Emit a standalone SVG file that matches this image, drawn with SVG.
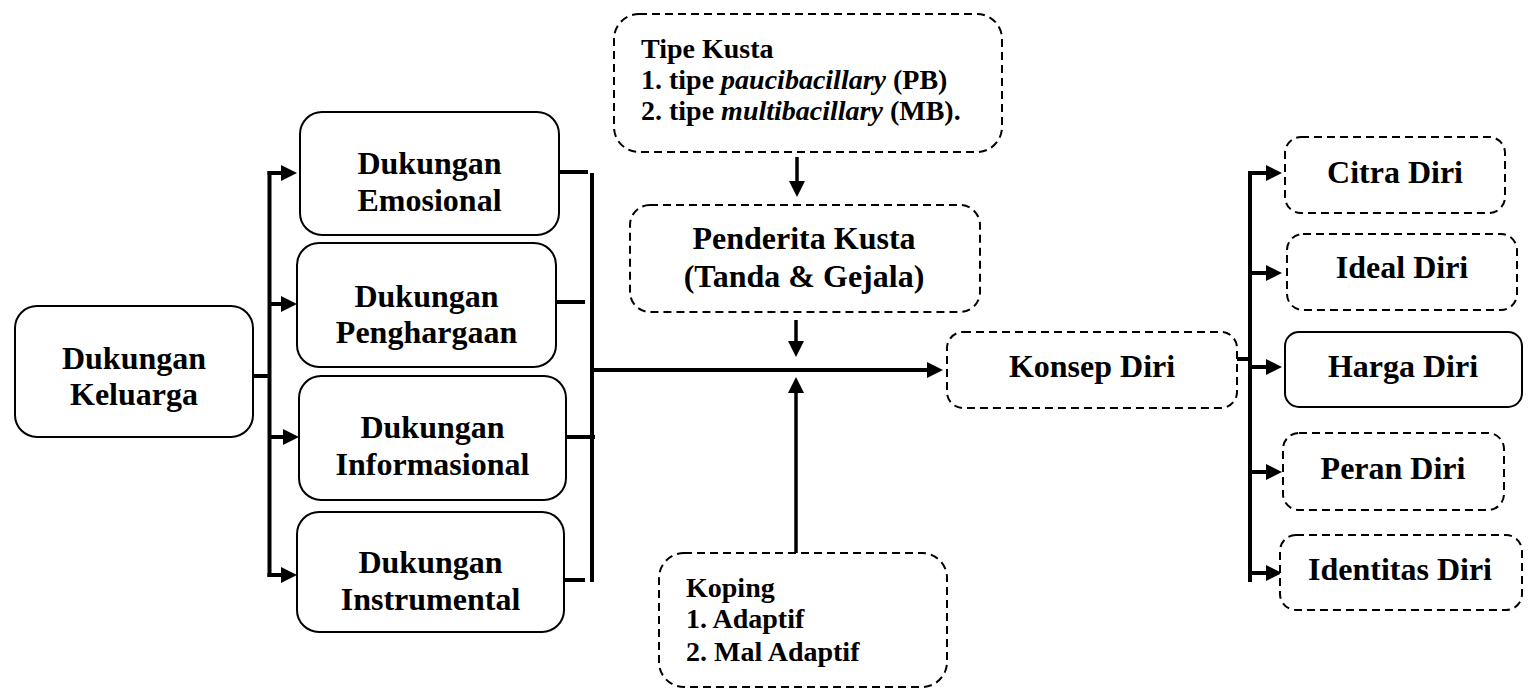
<svg xmlns="http://www.w3.org/2000/svg" width="1531" height="691" viewBox="0 0 1531 691">
<style>
  .box { fill: #fff; stroke: #000; stroke-width: 2; }
  .dash { fill: #fff; stroke: #000; stroke-width: 2; stroke-dasharray: 8 5; }
  .lbl { font-family: "Liberation Serif", "Times New Roman", serif; font-weight: bold; font-size: 32px; fill: #000; text-anchor: middle; }
  .lst { font-family: "Liberation Serif", "Times New Roman", serif; font-weight: bold; font-size: 28px; fill: #000; }
  .it { font-style: italic; }
  .ln { fill: none; stroke: #000; stroke-width: 4; }
  .lnA { fill: none; stroke: #000; stroke-width: 4; marker-end: url(#ah); }
  .lnV { fill: none; stroke: #000; stroke-width: 3.5; marker-end: url(#ah); }
</style>
<defs>
  <marker id="ah" viewBox="0 0 16 16" refX="6" refY="8" markerWidth="16" markerHeight="16" markerUnits="userSpaceOnUse" orient="auto">
    <path d="M0,0 L16,8 L0,16 z" fill="#000"/>
  </marker>
</defs>
<rect width="1531" height="691" fill="#fff"/>

<g id="connectors">
  <path class="ln" d="M253,376 H269.5"/>
  <path class="ln" d="M269.5,171 V577"/>
  <path class="lnA" d="M267.5,173 H287"/>
  <path class="lnA" d="M269.5,304 H287"/>
  <path class="lnA" d="M269.5,437 H289"/>
  <path class="lnA" d="M267.5,575 H287"/>

  <path class="ln" d="M559,172 H588"/>
  <path class="ln" d="M556,302 H585"/>
  <path class="ln" d="M566,437 H595"/>
  <path class="ln" d="M564,580 H585"/>
  <path class="ln" d="M592,173 V582"/>
  <path class="lnA" d="M592,370 H933"/>

  <path class="lnV" d="M797,157 V187"/>
  <path class="lnV" d="M796,320 V347"/>
  <path class="lnV" d="M796,553 V387"/>

  <path class="ln" d="M1237,359 H1250"/>
  <path class="ln" d="M1250,171 V582"/>
  <path class="lnA" d="M1248,173 H1272"/>
  <path class="lnA" d="M1250,273 H1272"/>
  <path class="lnA" d="M1250,367 H1272"/>
  <path class="lnA" d="M1250,472 H1272"/>
  <path class="lnA" d="M1248,573 H1272"/>
</g>

<g id="dukungan-keluarga">
  <rect class="box" x="15" y="306" width="238" height="131" rx="22"/>
  <text class="lbl" x="134" y="369">Dukungan</text>
  <text class="lbl" x="134" y="405">Keluarga</text>
</g>
<g id="dukungan-emosional">
  <rect class="box" x="300" y="112" width="259" height="123" rx="22"/>
  <text class="lbl" x="429.5" y="174">Dukungan</text>
  <text class="lbl" x="429.5" y="211">Emosional</text>
</g>
<g id="dukungan-penghargaan">
  <rect class="box" x="297" y="243" width="259" height="124" rx="22"/>
  <text class="lbl" x="426.5" y="307">Dukungan</text>
  <text class="lbl" x="426.5" y="343">Penghargaan</text>
</g>
<g id="dukungan-informasional">
  <rect class="box" x="299" y="376" width="267" height="124" rx="22"/>
  <text class="lbl" x="432.5" y="438">Dukungan</text>
  <text class="lbl" x="432.5" y="475">Informasional</text>
</g>
<g id="dukungan-instrumental">
  <rect class="box" x="297" y="512" width="267" height="120" rx="22"/>
  <text class="lbl" x="430.5" y="573">Dukungan</text>
  <text class="lbl" x="430.5" y="610">Instrumental</text>
</g>

<g id="tipe-kusta">
  <rect class="dash" x="614" y="14" width="388" height="138" rx="25"/>
  <text class="lst" x="641" y="58">Tipe Kusta</text>
  <text class="lst" x="641" y="89">1. tipe <tspan class="it">paucibacillary</tspan> (PB)</text>
  <text class="lst" x="641" y="120">2. tipe <tspan class="it">multibacillary</tspan> (MB).</text>
</g>
<g id="penderita-kusta">
  <rect class="dash" x="630" y="205" width="350" height="107" rx="20"/>
  <text class="lbl" x="804" y="249">Penderita Kusta</text>
  <text class="lbl" x="804" y="287">(Tanda &amp; Gejala)</text>
</g>
<g id="koping">
  <rect class="dash" x="659" y="553" width="288" height="134" rx="25"/>
  <text class="lst" x="686" y="597">Koping</text>
  <text class="lst" x="686" y="628">1. Adaptif</text>
  <text class="lst" x="686" y="661">2. Mal Adaptif</text>
</g>
<g id="konsep-diri">
  <rect class="dash" x="947" y="332" width="290" height="76" rx="16"/>
  <text class="lbl" x="1092" y="377">Konsep Diri</text>
</g>

<g id="citra-diri">
  <rect class="dash" x="1285" y="137" width="220" height="76" rx="16"/>
  <text class="lbl" x="1395" y="183">Citra Diri</text>
</g>
<g id="ideal-diri">
  <rect class="dash" x="1287" y="234" width="230" height="76" rx="16"/>
  <text class="lbl" x="1402" y="278">Ideal Diri</text>
</g>
<g id="harga-diri">
  <rect class="box" x="1285" y="332" width="237" height="75" rx="14"/>
  <text class="lbl" x="1403" y="377">Harga Diri</text>
</g>
<g id="peran-diri">
  <rect class="dash" x="1283" y="433" width="221" height="77" rx="16"/>
  <text class="lbl" x="1393" y="479">Peran Diri</text>
</g>
<g id="identitas-diri">
  <rect class="dash" x="1280" y="535" width="242" height="75" rx="16"/>
  <text class="lbl" x="1400" y="580">Identitas Diri</text>
</g>
</svg>
